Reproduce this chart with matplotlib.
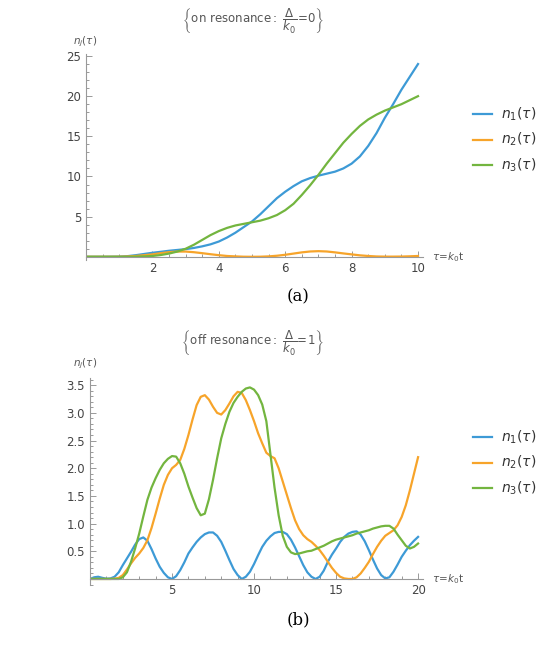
import numpy as np
import matplotlib.pyplot as plt
from matplotlib.ticker import MultipleLocator

plt.rcParams['font.family'] = ['DejaVu Sans']
plt.rcParams['mathtext.fontset'] = 'dejavusans'

# %% data, panel (a): on resonance, read every 0.25
tau_a = [i * 0.25 for i in range(41)]
n1_a = [0, 0, 0, 0.01, 0.02, 0.08, 0.2, 0.35, 0.5, 0.62, 0.75, 0.85, 0.95, 1.1, 1.3, 1.55,
        1.9, 2.4, 3.0, 3.7, 4.4, 5.3, 6.3, 7.3, 8.1, 8.8, 9.4, 9.8, 10.1, 10.35, 10.6, 11.0,
        11.6, 12.5, 13.8, 15.4, 17.3, 19.0, 20.8, 22.4, 24.0]
n2_a = [0, 0, 0, 0, 0.01, 0.04, 0.1, 0.2, 0.3, 0.45, 0.58, 0.65, 0.65, 0.57, 0.45, 0.32,
        0.2, 0.1, 0.05, 0.01, 0.0, 0.01, 0.05, 0.13, 0.25, 0.4, 0.55, 0.66, 0.7, 0.66, 0.55, 0.42,
        0.3, 0.18, 0.1, 0.04, 0.02, 0.02, 0.03, 0.06, 0.1]
n3_a = [0, 0, 0, 0, 0, 0, 0.02, 0.05, 0.1, 0.22, 0.4, 0.65, 1.0, 1.5, 2.1, 2.7,
        3.2, 3.6, 3.9, 4.1, 4.3, 4.5, 4.8, 5.2, 5.8, 6.6, 7.7, 8.9, 10.2, 11.6, 12.9, 14.2,
        15.3, 16.3, 17.1, 17.7, 18.2, 18.6, 19.0, 19.5, 20.0]

# %% data, panel (b): off resonance, read every 0.25
tau_b = [i * 0.25 for i in range(81)]
n1_b = [0, 0.03, 0.04, 0.02, 0.005, 0.01, 0.04, 0.12, 0.25, 0.37, 0.49, 0.62, 0.72, 0.75, 0.69, 0.54,
        0.37, 0.22, 0.11, 0.03, 0.0, 0.05, 0.16, 0.3, 0.46, 0.57, 0.67, 0.75, 0.81, 0.84, 0.84, 0.78,
        0.67, 0.51, 0.34, 0.18, 0.07, 0.0, 0.04, 0.13, 0.27, 0.43, 0.58, 0.69, 0.77, 0.83, 0.85, 0.85,
        0.81, 0.71, 0.57, 0.41, 0.25, 0.12, 0.04, 0.0, 0.04, 0.15, 0.31, 0.44, 0.55, 0.67, 0.76, 0.82,
        0.85, 0.86, 0.8, 0.68, 0.52, 0.35, 0.19, 0.07, 0.01, 0.03, 0.13, 0.26, 0.4, 0.51, 0.61, 0.69, 0.76]
n2_b = [0, 0, 0, 0, 0, 0, 0.005, 0.02, 0.07, 0.17, 0.28, 0.38, 0.46, 0.56, 0.7, 0.92,
        1.18, 1.45, 1.7, 1.88, 2.0, 2.06, 2.15, 2.35, 2.6, 2.88, 3.14, 3.29, 3.32, 3.24, 3.11, 3.0,
        2.97, 3.05, 3.17, 3.3, 3.38, 3.36, 3.23, 3.05, 2.85, 2.63, 2.45, 2.28, 2.22, 2.18, 2.0, 1.76,
        1.52, 1.28, 1.06, 0.9, 0.79, 0.72, 0.67, 0.6, 0.52, 0.42, 0.31, 0.2, 0.11, 0.04, 0.01, 0.0,
        0.0, 0.03, 0.1, 0.2, 0.31, 0.45, 0.58, 0.69, 0.78, 0.83, 0.88, 0.97, 1.12, 1.33, 1.6, 1.9, 2.2]
n3_b = [0, 0, 0, 0, 0, 0, 0, 0, 0.03, 0.12, 0.31, 0.55, 0.82, 1.13, 1.43, 1.65,
        1.82, 1.97, 2.09, 2.17, 2.22, 2.21, 2.09, 1.9, 1.67, 1.47, 1.28, 1.15, 1.18, 1.44, 1.79, 2.18,
        2.54, 2.8, 3.02, 3.18, 3.29, 3.38, 3.44, 3.46, 3.42, 3.32, 3.15, 2.85, 2.25, 1.65, 1.15, 0.78,
        0.58, 0.48, 0.45, 0.46, 0.48, 0.5, 0.51, 0.54, 0.57, 0.6, 0.64, 0.68, 0.71, 0.73, 0.75, 0.77,
        0.79, 0.82, 0.84, 0.86, 0.88, 0.91, 0.93, 0.95, 0.96, 0.96, 0.91, 0.8, 0.7, 0.6, 0.55, 0.58, 0.64]

labels = [r'$n_1(\tau)$', r'$n_2(\tau)$', r'$n_3(\tau)$']
colors = ['#3d9ad6', '#f7a42a', '#73b53f']
gray = '#555555'

W, H = 537, 663
fig = plt.figure(figsize=(W / 100, H / 100), dpi=100)


def px(x0, y0, x1, y1):
    # pixel box -> figure fraction rect
    return [x0 / W, 1 - y1 / H, (x1 - x0) / W, (y1 - y0) / H]


def style(ax, xmaj, xmin, ymaj, ymin):
    for s in ['top', 'right']:
        ax.spines[s].set_visible(False)
    ax.spines['bottom'].set_position(('data', 0))
    for s in ['left', 'bottom']:
        ax.spines[s].set_color('#999999')
        ax.spines[s].set_linewidth(0.8)
    ax.xaxis.set_major_locator(MultipleLocator(xmaj))
    ax.xaxis.set_minor_locator(MultipleLocator(xmin))
    ax.yaxis.set_major_locator(MultipleLocator(ymaj))
    ax.yaxis.set_minor_locator(MultipleLocator(ymin))
    ax.tick_params(which='both', direction='in', colors='#999999', labelcolor='#444444', labelsize=8.5, width=0.7)
    ax.tick_params(which='major', length=4)
    ax.tick_params(which='minor', length=2.5)


# %% panel (a)
ax1 = fig.add_axes(px(86, 53.6, 423, 260))
for y, c in zip([n1_a, n2_a, n3_a], colors):
    ax1.plot(tau_a, y, color=c, lw=1.6)
ax1.set_xlim(0, 10.15)
ax1.set_ylim(-0.4, 25.3)
style(ax1, 2, 0.5, 5, 1)
ax1.set_xticks([2, 4, 6, 8, 10])
ax1.set_yticks([5, 10, 15, 20, 25])

# %% panel (b)
ax2 = fig.add_axes(px(90, 378, 423, 584.5))
for y, c in zip([n1_b, n2_b, n3_b], colors):
    ax2.plot(tau_b, y, color=c, lw=1.6)
ax2.set_xlim(0, 20.3)
ax2.set_ylim(-0.1, 3.63)
style(ax2, 5, 1, 0.5, 0.1)
ax2.set_xticks([5, 10, 15, 20])
ax2.set_yticks([0.5, 1.0, 1.5, 2.0, 2.5, 3.0, 3.5])
ax2.set_yticklabels(['0.5', '1.0', '1.5', '2.0', '2.5', '3.0', '3.5'])

# %% titles, axis labels, legends
fig.text(253 / W, 1 - 20 / H, r'$\left\{\mathrm{on\ resonance{:}}\ \dfrac{\Delta}{k_0}\!=\!0\right\}$',
         ha='center', va='center', fontsize=8.5, color=gray)
fig.text(253 / W, 1 - 342 / H, r'$\left\{\mathrm{off\ resonance{:}}\ \dfrac{\Delta}{k_0}\!=\!1\right\}$',
         ha='center', va='center', fontsize=8.5, color=gray)
fig.text(85 / W, 1 - 42 / H, r'$n_j(\tau)$', ha='center', va='center', fontsize=7.5, color=gray)
fig.text(85 / W, 1 - 364 / H, r'$n_j(\tau)$', ha='center', va='center', fontsize=7.5, color=gray)
fig.text(432 / W, 1 - 257 / H, r'$\tau\!=\!k_0\mathrm{t}$', ha='left', va='center', fontsize=7.5, color=gray)
fig.text(432 / W, 1 - 579 / H, r'$\tau\!=\!k_0\mathrm{t}$', ha='left', va='center', fontsize=7.5, color=gray)

for y0 in [114, 437]:
    for i, (lab, c) in enumerate(zip(labels, colors)):
        yy = 1 - (y0 + 25.5 * i) / H
        fig.add_artist(plt.Line2D([473 / W, 492 / W], [yy, yy], color=c, lw=1.6))
        fig.text(501 / W, yy, lab, ha='left', va='center', fontsize=10, color='#333333')

fig.text(298 / W, 1 - 297 / H, '(a)', ha='center', va='center', fontsize=12, family='DejaVu Serif')
fig.text(298 / W, 1 - 620 / H, '(b)', ha='center', va='center', fontsize=12, family='DejaVu Serif')

fig.savefig('out.png', dpi=100)
